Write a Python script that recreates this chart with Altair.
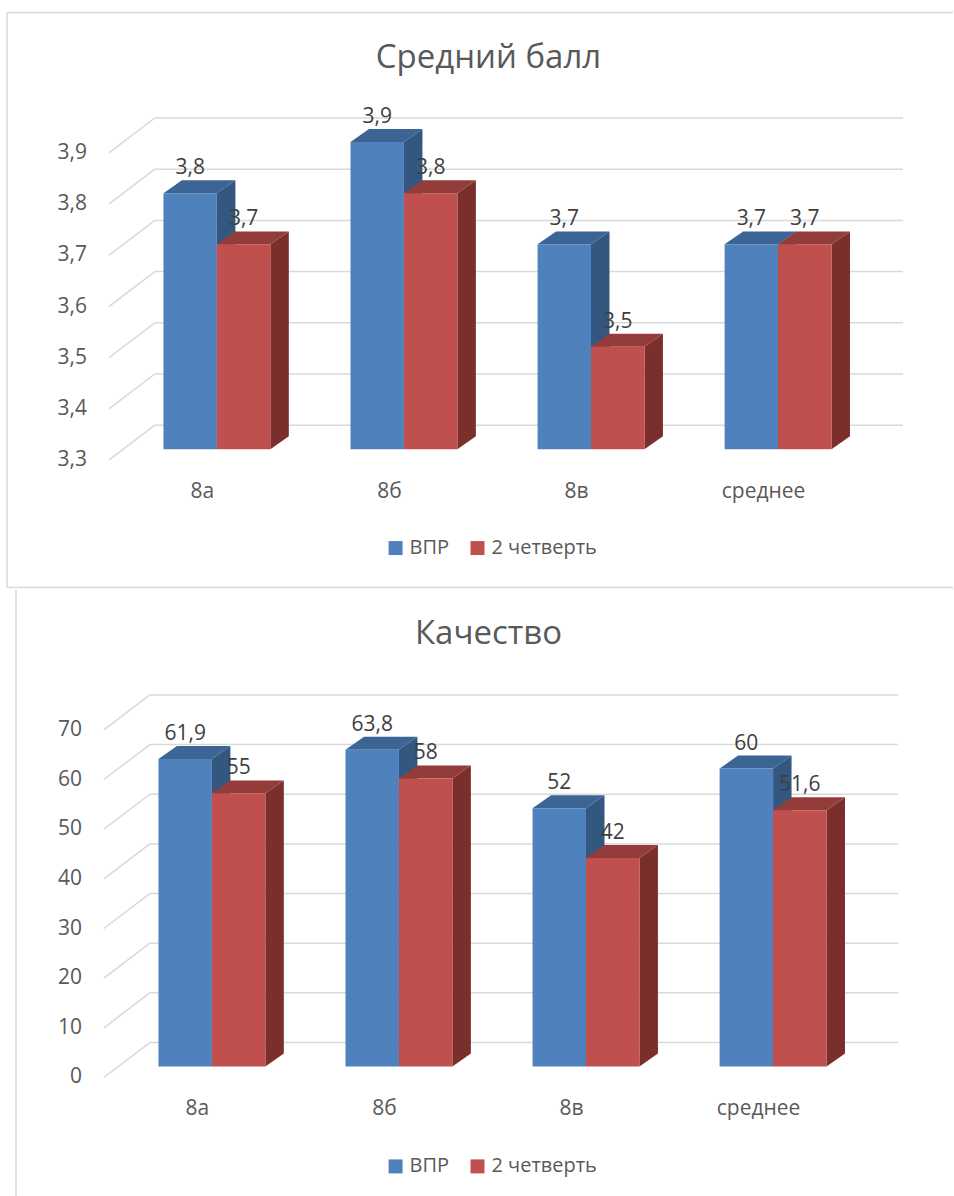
import altair as alt
import pandas as pd

# ---- data -------------------------------------------------------------
categories = ["8а", "8б", "8в", "среднее"]
series = ["ВПР", "2 четверть"]

avg_vpr = [3.8, 3.9, 3.7, 3.7]
avg_q2 = [3.7, 3.8, 3.5, 3.7]
avg_ticks = [3.3, 3.4, 3.5, 3.6, 3.7, 3.8, 3.9]

qual_vpr = [61.9, 63.8, 52, 60]
qual_q2 = [55, 58, 42, 51.6]
qual_ticks = [0, 10, 20, 30, 40, 50, 60, 70]

# ---- style ------------------------------------------------------------
FONT = "Open Sans"
FRONT = ["#4F81BD", "#C0504D"]
TOP = ["#3C6494", "#943C3A"]
SIDE = ["#34577F", "#7B2F2D"]
GRID = "#D9D9D9"
TEXT = "#595959"
LABEL = "#404040"
W = 954

# pixel vectors of the oblique projection (dx to the right, dy upward)
WALL_PX = (46, 35)      # front plane -> back wall
SHIFT_PX = (14.5, 11)   # front plane -> bar front face
DEPTH_PX = (18.5, 13)   # bar front face -> bar back face
BAR_W = 2 / 7           # width of one bar in category slots


def fmt(v):
    return f"{v:g}".replace(".", ",")


def panel(title, vpr, q2, ticks, height, x_px, y_px, title_y, legend_y, frame):
    n = len(categories)
    kx = (x_px[1] - x_px[0]) / n
    ky = (y_px[0] - y_px[1]) / (ticks[-1] - ticks[0])
    wall = (WALL_PX[0] / kx, WALL_PX[1] / ky)
    shift = (SHIFT_PX[0] / kx, SHIFT_PX[1] / ky)
    depth = (DEPTH_PX[0] / kx, DEPTH_PX[1] / ky)
    base = ticks[0]

    xs = alt.Scale(domain=[-0.5, n - 0.5], range=list(x_px), nice=False, zero=False)
    ys = alt.Scale(domain=[ticks[0], ticks[-1]], range=list(y_px), nice=False, zero=False)

    def X(f):
        return alt.X(f, type="quantitative", scale=xs, axis=None)

    def Y(f):
        return alt.Y(f, type="quantitative", scale=ys, axis=None, stack=False)

    # bars and their visible 3D faces
    fronts, tops, sides = [], [], []
    for s, values in enumerate([vpr, q2]):
        for i, v in enumerate(values):
            x0 = i - BAR_W + s * BAR_W + shift[0]
            x1 = x0 + BAR_W
            y_top = v + shift[1]
            y_bot = base + shift[1]
            bid = f"{s}-{i}"
            fronts.append(dict(series=series[s], s=s, bar=bid, x0=x0, x1=x1,
                               xc=(x0 + x1) / 2, top=y_top, bot=y_bot, label=fmt(v)))
            tops += [dict(s=s, bar=bid, y=y_top, xl=x0, xr=x1),
                     dict(s=s, bar=bid, y=y_top + depth[1], xl=x0 + depth[0], xr=x1 + depth[0])]
            sides += [dict(s=s, bar=bid, x=x1, lo=y_bot, hi=y_top),
                      dict(s=s, bar=bid, x=x1 + depth[0], lo=y_bot + depth[1], hi=y_top + depth[1])]
    fronts = pd.DataFrame(fronts)
    tops = pd.DataFrame(tops)
    sides = pd.DataFrame(sides)

    grid = pd.DataFrame({"tick": ticks})
    grid["label"] = [fmt(t) for t in ticks]
    grid["xa"] = -0.5
    grid["xb"] = -0.5 + wall[0]
    grid["xe"] = n - 0.5 + wall[0]
    grid["yb"] = grid["tick"] + wall[1]

    back_lines = alt.Chart(grid).mark_rule(color=GRID, strokeWidth=1.5).encode(
        x=X("xb"), x2="xe", y=Y("yb"))
    diagonals = alt.Chart(grid).mark_rule(color=GRID, strokeWidth=1.5).encode(
        x=X("xa"), x2="xb", y=Y("tick"), y2="yb")
    tick_labels = alt.Chart(grid).mark_text(
        align="right", baseline="middle", dx=-22, font=FONT, fontSize=21, color=TEXT
    ).encode(x=X("xa"), y=Y("tick"), text="label:N")

    color = alt.Color(
        "series:N",
        scale=alt.Scale(domain=series, range=FRONT),
        legend=alt.Legend(
            title=None, orient="none", direction="horizontal",
            legendX=386, legendY=legend_y,
            symbolType="square", symbolSize=196, symbolStrokeWidth=0,
            labelFont=FONT, labelFontSize=20, labelColor=TEXT,
            labelOffset=4, columnPadding=18,
        ),
    )

    bar_layers = []
    for s in range(len(series)):
        side = alt.Chart(sides[sides.s == s]).mark_area(
            orient="vertical", color=SIDE[s]).encode(
            x=X("x"), y=Y("lo"), y2="hi", detail="bar:N")
        top = alt.Chart(tops[tops.s == s]).mark_area(
            orient="horizontal", color=TOP[s]).encode(
            y=Y("y"), x=X("xl"), x2="xr", detail="bar:N")
        front = alt.Chart(fronts[fronts.s == s]).mark_rect().encode(
            x=X("x0"), x2="x1", y=Y("bot"), y2="top", color=color)
        bar_layers += [side, top, front]

    value_labels = alt.Chart(fronts).mark_text(
        baseline="middle", dy=-25, font=FONT, fontSize=21, color=LABEL
    ).encode(x=X("xc"), y=Y("top"), text="label:N")

    cats = pd.DataFrame({"cat": categories, "i": list(range(n)), "base": base})
    cat_labels = alt.Chart(cats).mark_text(
        baseline="middle", dy=32, font=FONT, fontSize=21, color=TEXT
    ).encode(x=X("i"), y=Y("base"), text="cat:N")

    title_mark = alt.Chart(pd.DataFrame({"t": [title]})).mark_text(
        baseline="alphabetic", font=FONT, fontSize=33, color=TEXT
    ).encode(x=alt.value(489), y=alt.value(title_y), text="t:N")

    frame_marks = [
        alt.Chart(pd.DataFrame({"k": [0]})).mark_rule(color=GRID, strokeWidth=r[4]).encode(
            x=alt.value(r[0]), x2=alt.value(r[1]), y=alt.value(r[2]), y2=alt.value(r[3]))
        for r in frame
    ]

    return alt.layer(
        *frame_marks, back_lines, diagonals, tick_labels, *bar_layers,
        value_labels, cat_labels, title_mark,
    ).properties(width=W, height=height)


top_panel = panel(
    "Средний балл", avg_vpr, avg_q2, avg_ticks, 588,
    x_px=(109, 858), y_px=(460, 152.5), title_y=67, legend_y=538,
    frame=[(7, W, 12, 12, 1.5), (7, 7, 12, 587.5, 1.5), (7, W, 587.5, 587.5, 1.5)],
)
bottom_panel = panel(
    "Качество", qual_vpr, qual_q2, qual_ticks, 608,
    x_px=(104, 853), y_px=(488, 140), title_y=54, legend_y=567,
    frame=[(16, 16, 0, 608, 1.5)],
)

chart = (
    alt.vconcat(top_panel, bottom_panel, spacing=0)
    .resolve_scale(color="independent", x="independent", y="independent")
    .properties(padding=0, background="white")
    .configure_view(strokeWidth=0)
)

chart.save("out.html", embed_options={"renderer": "svg", "actions": False})
